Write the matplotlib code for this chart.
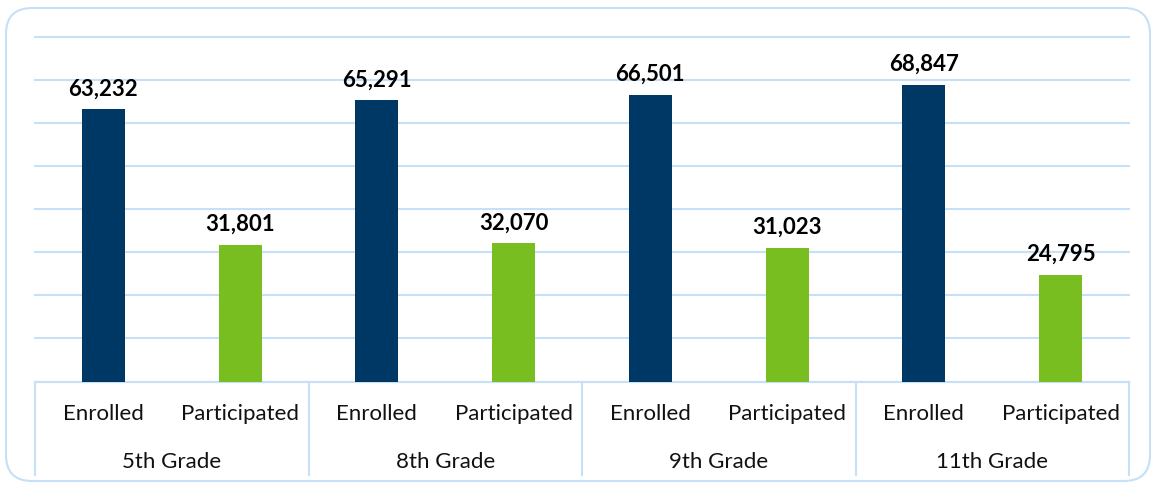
import matplotlib
matplotlib.use("Agg")
import matplotlib.pyplot as plt
from matplotlib.patches import FancyBboxPatch
from matplotlib.lines import Line2D
from matplotlib.transforms import IdentityTransform
import numpy as np

grades = ["5th Grade", "8th Grade", "9th Grade", "11th Grade"]
series = ["Enrolled", "Participated"]
enrolled = [63232, 65291, 66501, 68847]
participated = [31801, 32070, 31023, 24795]

W, H = 1153, 485
fig = plt.figure(figsize=(W / 100, H / 100), dpi=100)
plt.rcParams['font.family'] = ['Lato', 'DejaVu Sans']

# rounded border (pixel coordinates, origin bottom-left)
border = FancyBboxPatch((6, H - 482), 1150 - 6, 482 - 9,
                        boxstyle="round,pad=0,rounding_size=26",
                        transform=IdentityTransform(), facecolor="none",
                        edgecolor="#C5E0F7", linewidth=1.5, zorder=-1)
fig.patches.append(border)

top_px, base_px = 38, 382.5
ax = fig.add_axes([35 / W, (H - base_px) / H, (1129 - 35) / W, (base_px - top_px) / H])
ax.set_facecolor("none")
grid_c = "#C5E0F7"
navy = "#003865"
green = "#78BE20"

n = len(grades)
x_enr = np.arange(n) * 2 + 0.5
x_par = np.arange(n) * 2 + 1.5
bw = 0.315
ax.bar(x_enr, enrolled, width=bw, color=navy, zorder=3)
ax.bar(x_par, participated, width=bw, color=green, zorder=3)
ax.set_xlim(0, 2 * n)
ax.set_ylim(0, 80000)
ax.set_yticks(np.arange(0, 80001, 10000))
ax.yaxis.grid(True, color=grid_c, linewidth=1.5)
for gl in ax.get_ygridlines():
    gl.set_clip_on(False)
ax.set_axisbelow(True)
for s in ax.spines.values():
    s.set_visible(False)
ax.tick_params(left=False, bottom=False, labelleft=False, labelbottom=False)

for xs, vals in ((x_enr, enrolled), (x_par, participated)):
    for x, v in zip(xs, vals):
        ax.annotate(f"{v:,}", (x, v), xytext=(0, 11), textcoords="offset pixels",
                    ha="center", va="bottom", fontsize=16, fontweight="bold",
                    color="black", zorder=4)

# category axis
trans = ax.get_xaxis_transform()
ax.add_line(Line2D([0, 2 * n], [0, 0], transform=trans, color=grid_c, lw=1.5, clip_on=False))
span = base_px - top_px
bottom_frac = -(476 - base_px) / span
for i in range(n + 1):
    ax.add_line(Line2D([2 * i, 2 * i], [0, bottom_frac], transform=trans,
                       color=grid_c, lw=1.5, clip_on=False))
lab_y1 = -(414 - base_px) / span
lab_y2 = -(462 - base_px) / span
for i, g in enumerate(grades):
    ax.text(2 * i + 0.5, lab_y1, series[0], transform=trans, ha="center", va="center",
            fontsize=16, color="#111111")
    ax.text(2 * i + 1.5, lab_y1, series[1], transform=trans, ha="center", va="center",
            fontsize=16, color="#111111")
    ax.text(2 * i + 1.0, lab_y2, g, transform=trans, ha="center", va="center",
            fontsize=16, color="#111111")

fig.savefig("out.png", dpi=100)
